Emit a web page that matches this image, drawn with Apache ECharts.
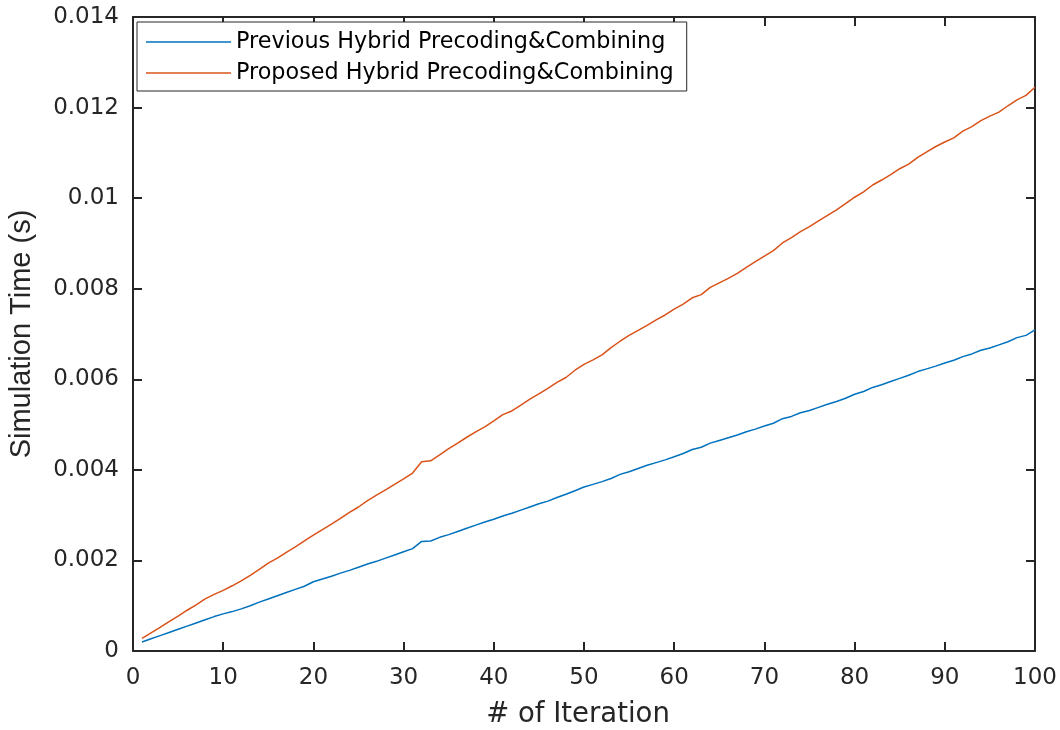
<!DOCTYPE html>
<html>
<head>
<meta charset="utf-8">
<title>Simulation Time vs Iteration</title>
<script src="https://cdn.jsdelivr.net/npm/echarts@6/dist/echarts.min.js"></script>
<style>
  html, body { margin: 0; padding: 0; background: #ffffff; }
  #chart { width: 1060px; height: 730px; }
</style>
</head>
<body>
<div id="chart"></div>
<script>
// Iteration index 1..100
const iterations = [
  1,2,3,4,5,6,7,8,9,10,11,12,13,14,15,16,17,18,19,20,
  21,22,23,24,25,26,27,28,29,30,31,32,33,34,35,36,37,38,39,40,
  41,42,43,44,45,46,47,48,49,50,51,52,53,54,55,56,57,58,59,60,
  61,62,63,64,65,66,67,68,69,70,71,72,73,74,75,76,77,78,79,80,
  81,82,83,84,85,86,87,88,89,90,91,92,93,94,95,96,97,98,99,100
];

// Cumulative simulation time (s), previous scheme
const previousTime = [
  0.00020,0.00027,0.00034,0.00041,0.00048,0.00055,0.00062,0.00069,0.00076,0.00082,
  0.00087,0.00093,0.00100,0.00108,0.00115,0.00122,0.00129,0.00136,0.00143,0.00153,
  0.00159,0.00165,0.00172,0.00178,0.00185,0.00192,0.00198,0.00205,0.00212,0.00219,
  0.00226,0.00242,0.00243,0.00251,0.00257,0.00264,0.00271,0.00278,0.00285,0.00291,
  0.00298,0.00304,0.00311,0.00318,0.00325,0.00331,0.00339,0.00346,0.00354,0.00362,
  0.00368,0.00374,0.00381,0.00390,0.00396,0.00403,0.00410,0.00416,0.00422,0.00429,
  0.00436,0.00445,0.00450,0.00459,0.00465,0.00471,0.00477,0.00484,0.00490,0.00497,
  0.00503,0.00513,0.00518,0.00526,0.00531,0.00538,0.00545,0.00551,0.00558,0.00567,
  0.00573,0.00582,0.00588,0.00595,0.00602,0.00609,0.00617,0.00623,0.00629,0.00636,
  0.00642,0.00650,0.00656,0.00664,0.00669,0.00676,0.00683,0.00692,0.00697,0.00709
];

// Cumulative simulation time (s), proposed scheme
const proposedTime = [
  0.00028,0.00040,0.00052,0.00065,0.00077,0.00090,0.00102,0.00115,0.00125,0.00134,
  0.00144,0.00155,0.00167,0.00180,0.00194,0.00205,0.00218,0.00230,0.00243,0.00256,
  0.00268,0.00280,0.00293,0.00306,0.00318,0.00332,0.00344,0.00356,0.00368,0.00380,
  0.00393,0.00418,0.00420,0.00433,0.00447,0.00459,0.00472,0.00484,0.00495,0.00508,
  0.00522,0.00530,0.00543,0.00556,0.00568,0.00580,0.00593,0.00604,0.00620,0.00633,
  0.00643,0.00654,0.00670,0.00684,0.00697,0.00708,0.00719,0.00731,0.00742,0.00755,
  0.00766,0.00780,0.00787,0.00803,0.00813,0.00823,0.00834,0.00847,0.00860,0.00872,
  0.00884,0.00901,0.00913,0.00926,0.00937,0.00950,0.00962,0.00974,0.00988,0.01002,
  0.01014,0.01029,0.01040,0.01052,0.01065,0.01075,0.01090,0.01102,0.01114,0.01124,
  0.01133,0.01148,0.01158,0.01171,0.01181,0.01190,0.01204,0.01217,0.01227,0.01245
];

const seriesNames = [
  'Previous Hybrid Precoding&Combining',
  'Proposed Hybrid Precoding&Combining'
];

const xTicks = { min: 0, max: 100, interval: 10 };
const yTicks = { min: 0, max: 0.014, interval: 0.002 };

const axisColor = '#262626';
const wideFont = '"DejaVu Sans", Verdana, sans-serif';
const plainFont = '"Liberation Sans", Arial, Helvetica, sans-serif';

const toPairs = (xs, ys) => xs.map((x, i) => [x, ys[i]]);

// Boxed axes with inward ticks on all four sides
const baseAxis = {
  axisLine: { show: true, onZero: false, lineStyle: { color: axisColor, width: 2 } },
  axisTick: { show: true, inside: true, length: 9, lineStyle: { color: axisColor, width: 2 } },
  splitLine: { show: false }
};

const chart = echarts.init(document.getElementById('chart'), null, { renderer: 'canvas' });

chart.setOption({
  backgroundColor: '#ffffff',
  animation: false,
  grid: {
    left: 133, right: 25, top: 17, bottom: 79,
    containLabel: false, outerBoundsMode: 'none'
  },
  legend: {
    orient: 'vertical',
    left: 137,
    top: 22,
    padding: [9, 13, 7, 9],
    itemGap: 9,
    itemWidth: 85,
    itemHeight: 1.5,
    icon: 'rect',
    borderColor: axisColor,
    borderWidth: 1,
    borderRadius: 0,
    backgroundColor: '#ffffff',
    textStyle: { fontFamily: wideFont, fontSize: 22.3, color: '#000000' },
    data: seriesNames
  },
  xAxis: [
    Object.assign({}, baseAxis, {
      type: 'value', position: 'bottom',
      min: xTicks.min, max: xTicks.max, interval: xTicks.interval,
      name: '# of Iteration', nameLocation: 'middle', nameGap: 50,
      nameTextStyle: { fontFamily: wideFont, fontSize: 27.5, color: axisColor, padding: [0, 12, 0, 0] },
      axisLabel: { fontFamily: wideFont, fontSize: 23, color: axisColor, margin: 16 }
    }),
    Object.assign({}, baseAxis, {
      type: 'value', position: 'top',
      min: xTicks.min, max: xTicks.max, interval: xTicks.interval,
      axisLabel: { show: false }
    })
  ],
  yAxis: [
    Object.assign({}, baseAxis, {
      type: 'value', position: 'left',
      min: yTicks.min, max: yTicks.max, interval: yTicks.interval,
      name: 'Simulation Time (s)', nameLocation: 'middle', nameGap: 97,
      nameTextStyle: { fontFamily: plainFont, fontSize: 29, color: axisColor },
      axisLabel: {
        fontFamily: wideFont, fontSize: 23, color: axisColor, margin: 14,
        formatter: v => String(parseFloat(v.toFixed(3)))
      }
    }),
    Object.assign({}, baseAxis, {
      type: 'value', position: 'right',
      min: yTicks.min, max: yTicks.max, interval: yTicks.interval,
      axisLabel: { show: false }
    })
  ],
  series: [
    {
      name: seriesNames[0], type: 'line', xAxisIndex: 0, yAxisIndex: 0,
      symbol: 'none', smooth: false,
      lineStyle: { color: '#0072BD', width: 1.5 },
      itemStyle: { color: '#0072BD' },
      data: toPairs(iterations, previousTime)
    },
    {
      name: seriesNames[1], type: 'line', xAxisIndex: 0, yAxisIndex: 0,
      symbol: 'none', smooth: false,
      lineStyle: { color: '#D95319', width: 1.5 },
      itemStyle: { color: '#D95319' },
      data: toPairs(iterations, proposedTime)
    }
  ]
});
</script>
</body>
</html>
